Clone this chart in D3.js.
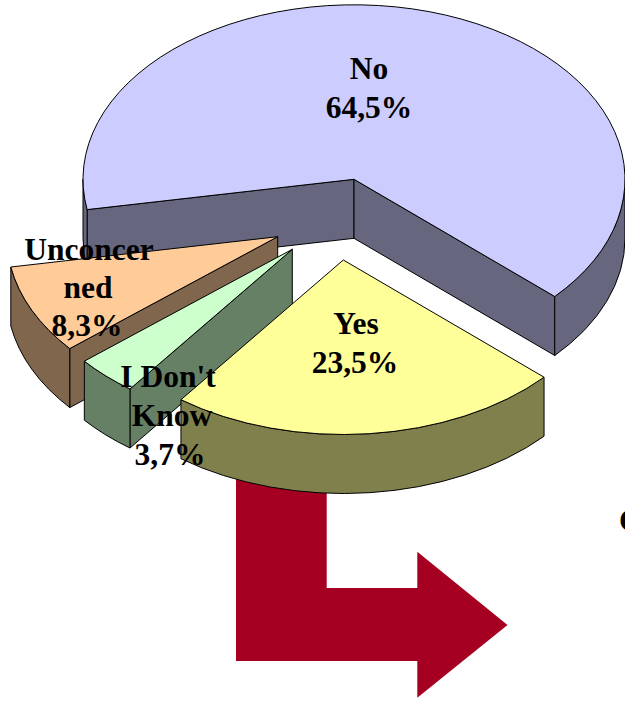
<!DOCTYPE html>
<html><head><meta charset="utf-8">
<script src="https://cdn.jsdelivr.net/npm/d3@7/dist/d3.min.js"></script>
<style>html,body{margin:0;padding:0;background:#fff;overflow:hidden}svg{display:block}</style>
</head><body><div id="chart"></div>
<script>
const categories = ["No", "Yes", "I Don't Know", "Unconcerned"];
const values = [64.5, 23.5, 3.7, 8.3];
const labelLines = [["No","64,5%"],["Yes","23,5%"],["I Don't","Know","3,7%"],["Unconcer","ned","8,3%"]];
const topColors = ["#CCCCFF","#FFFF99","#CCFFCC","#FFCC99"];
const wallColors = ["#66667F","#80804C","#668066","#80664C"];

const W=625,H=702, rx=271, ry=174.5, depth=59;
const centers=[[354,179.3],[343.3,260],[292.3,249.3],[277.7,236.7]];
const labelPos=[[[369,79],[369,118]],[[356,334],[355,373]],[[168,387],[172,426],[170,465]],[[89,260],[88,298],[87,336]]];
const drawOrder=[0,3,2,1];

const svg=d3.select("#chart").append("svg").attr("width",W).attr("height",H);
const DEG=Math.PI/180;
const pie=d3.pie().value(d=>d).sort(null).startAngle(-100*DEG).endAngle(260*DEG);
const arcs=pie(values);

// arrow behind the pie
const arrow=[[236,470],[236,661],[417.3,661],[417.3,697.7],[507.5,625],[417.3,551.7],[417.3,588],[326.7,588],[326.7,470]];
svg.append("path").attr("d",d3.line()(arrow)+"Z").attr("fill","#A50021");

const pt=(c,a,dy=0)=>[c[0]+rx*Math.sin(a),c[1]-ry*Math.cos(a)+dy];
const ell=(p,large,sweep)=>`A${rx},${ry} 0 ${large} ${sweep} ${p[0]},${p[1]}`;

function sector(c,a0,a1){
  const p0=pt(c,a0),p1=pt(c,a1);
  return `M${c[0]},${c[1]}L${p0[0]},${p0[1]}${ell(p1,(a1-a0)>Math.PI?1:0,1)}Z`;
}
function radial(c,a){
  const p=pt(c,a);
  return `M${c[0]},${c[1]}L${p[0]},${p[1]}L${p[0]},${p[1]+depth}L${c[0]},${c[1]+depth}Z`;
}
function outer(c,a0,a1){
  const p0=pt(c,a0),p1=pt(c,a1),q0=pt(c,a0,depth),q1=pt(c,a1,depth);
  return `M${p0[0]},${p0[1]}${ell(p1,0,1)}L${q1[0]},${q1[1]}${ell(q0,0,0)}Z`;
}
// front-facing parts of rim: screen-angle range 90..270 deg
function frontRanges(a0,a1){
  const out=[];
  [[Math.PI/2,3*Math.PI/2],[-3*Math.PI/2,-Math.PI/2]].forEach(([s,e])=>{
    const l=Math.max(a0,s),h=Math.min(a1,e);
    if(h>l) out.push([l,h]);
  });
  return out;
}
function draw(d,col,g){
  g.append("path").attr("d",d).attr("fill",col).attr("stroke","#000")
    .attr("stroke-width",1).attr("stroke-linejoin","round");
}
drawOrder.forEach(i=>{
  const a=arcs[i],c=centers[i],g=svg.append("g").attr("class","slice");
  // only the walls that face the viewer are drawn
  if(Math.sin(a.startAngle)<0) draw(radial(c,a.startAngle),wallColors[i],g);
  if(Math.sin(a.endAngle)>0) draw(radial(c,a.endAngle),wallColors[i],g);
  frontRanges(a.startAngle,a.endAngle).forEach(r=>draw(outer(c,r[0],r[1]),wallColors[i],g));
  draw(sector(c,a.startAngle,a.endAngle),topColors[i],g);
});

const font={family:"'Liberation Serif','Times New Roman',serif",size:31.5};
labelLines.forEach((lines,i)=>{
  const t=svg.append("text").attr("text-anchor","middle").attr("font-family",font.family)
    .attr("font-size",font.size).attr("font-weight","bold").attr("fill","#000");
  lines.forEach((s,j)=>t.append("tspan").attr("x",labelPos[i][j][0]).attr("y",labelPos[i][j][1]).text(s));
});
svg.append("text").attr("x",619).attr("y",531).attr("font-family",font.family).attr("font-size",font.size)
  .attr("font-weight","bold").text("C");
</script></body></html>
